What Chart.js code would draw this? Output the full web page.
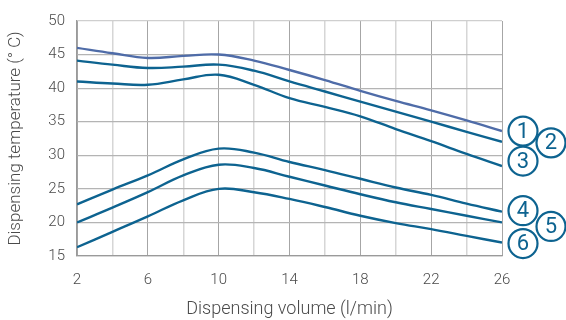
<!DOCTYPE html>
<html>
<head>
<meta charset="utf-8">
<script src="https://cdn.jsdelivr.net/npm/chart.js@4"></script>
<style>
  html, body { margin: 0; padding: 0; background: #fff; }
  #wrap { width: 566px; height: 320px; position: relative; }
</style>
</head>
<body>
<div id="wrap"><canvas id="chart"></canvas></div>
<script>
// -------------------------
// Data
// -------------------------
const volumes = [2, 4, 6, 8, 10, 12, 14, 16, 18, 20, 22, 24, 26];
const curve1 = [46.0, 45.2, 44.5, 44.8, 45.0, 44.1, 42.7, 41.2, 39.6, 38.1, 36.7, 35.2, 33.6];
const curve2 = [44.1, 43.5, 43.0, 43.2, 43.5, 42.6, 41.0, 39.5, 38.0, 36.5, 35.0, 33.5, 32.0];
const curve3 = [41.0, 40.7, 40.5, 41.3, 42.0, 40.5, 38.5, 37.2, 35.8, 33.9, 32.1, 30.2, 28.4];
const curve4 = [22.7, 24.9, 27.0, 29.4, 31.0, 30.4, 29.0, 27.8, 26.5, 25.2, 24.1, 22.8, 21.6];
const curve5 = [20.0, 22.2, 24.5, 27.0, 28.6, 28.1, 26.8, 25.5, 24.2, 23.0, 22.0, 21.0, 20.0];
const curve6 = [16.3, 18.6, 20.9, 23.3, 25.0, 24.5, 23.5, 22.3, 21.0, 19.9, 19.0, 18.0, 17.0];
const curveLabels = ["1", "2", "3", "4", "5", "6"];
const xTickLabels = [2, 6, 10, 14, 18, 22, 26];

// -------------------------
// Styles
// -------------------------
const BLUE = "#0d6390";
const SLATE = "#4f6ca8";
const FONT = "Roboto, 'Liberation Sans', sans-serif";
const TXT = "#4a4a4a";

// where the circled numbers sit, relative to each curve end
const labelDx = [21, 49, 21, 21, 49, 21];
const labelDy = [0, 1, -5, -1, 4, 1];

function makeSet(data, color){
  return {
    data: volumes.map((x, i) => ({ x, y: data[i] })),
    borderColor: color,
    borderWidth: 2.4,
    pointRadius: 0,
    fill: false,
    tension: 0.4
  };
}

const circleLabels = {
  id: "circleLabels",
  afterDatasetsDraw(chart){
    const ctx = chart.ctx;
    const area = chart.chartArea;
    ctx.save();
    chart.data.datasets.forEach((ds, i) => {
      const meta = chart.getDatasetMeta(i);
      const last = meta.data[meta.data.length - 1];
      if (!last) return;
      const cx = area.right + labelDx[i];
      const cy = last.y + labelDy[i];
      ctx.beginPath();
      ctx.arc(cx, cy, 14.5, 0, Math.PI * 2);
      ctx.fillStyle = "#fff";
      ctx.fill();
      ctx.lineWidth = 2.2;
      ctx.strokeStyle = BLUE;
      ctx.stroke();
      ctx.fillStyle = BLUE;
      ctx.font = "400 22px " + FONT;
      ctx.textAlign = "center";
      ctx.textBaseline = "middle";
      ctx.fillText(curveLabels[i], cx, cy + 1);
    });
    ctx.restore();
  }
};

new Chart(document.getElementById("chart"), {
  type: "line",
  data: {
    datasets: [
      makeSet(curve1, SLATE),
      makeSet(curve2, BLUE),
      makeSet(curve3, BLUE),
      makeSet(curve4, BLUE),
      makeSet(curve5, BLUE),
      makeSet(curve6, BLUE)
    ]
  },
  options: {
    responsive: true,
    maintainAspectRatio: false,
    animation: false,
    layout: { padding: { top: 20, right: 64, bottom: 0, left: 0 } },
    plugins: { legend: { display: false }, tooltip: { enabled: false } },
    scales: {
      x: {
        type: "linear",
        min: 2, max: 26,
        afterFit: s => { s.height = 64; },
        ticks: {
          stepSize: 2,
          autoSkip: false,
          color: TXT,
          font: { family: FONT, size: 15, weight: "300" },
          padding: 15,
          maxRotation: 0,
          callback: v => xTickLabels.includes(v) ? String(v) : ""
        },
        grid: {
          drawTicks: false,
          lineWidth: ctx => (ctx.tick && xTickLabels.includes(ctx.tick.value)) ? 1 : 1.5,
          color: ctx => (ctx.tick && xTickLabels.includes(ctx.tick.value)) ? "#a6a6a6" : "#d6d6d6"
        },
        border: { color: "#9a9a9a", width: 1.2 },
        title: {
          display: true,
          text: "Dispensing volume (l/min)",
          color: TXT,
          font: { family: FONT, size: 18, weight: "300" },
          padding: { top: 10, bottom: 0 }
        }
      },
      y: {
        min: 15, max: 50,
        afterFit: s => { s.width = 77; },
        ticks: {
          stepSize: 5,
          color: TXT,
          font: { family: FONT, size: 15, weight: "300" },
          padding: 12
        },
        grid: {
          drawTicks: false,
          color: ctx => (ctx.tick && ctx.tick.value === 50) ? "#cfcfcf" : "#b4b4b4",
          lineWidth: 1.2
        },
        border: { color: "#9a9a9a", width: 1.2 },
        title: {
          display: true,
          text: "Dispensing temperature (° C)",
          color: TXT,
          font: { family: FONT, size: 17, weight: "300" },
          padding: { top: 6, bottom: 0 }
        }
      }
    }
  },
  plugins: [circleLabels]
});
</script>
</body>
</html>
